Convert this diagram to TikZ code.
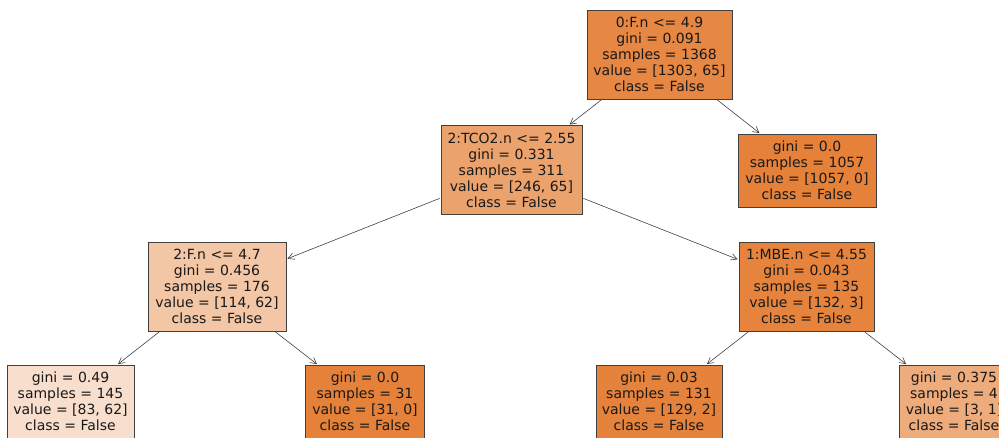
\documentclass[tikz,border=0pt]{standalone}
\usepackage{fontspec}
\setmainfont{DejaVu Sans}
\usetikzlibrary{arrows.meta}

% node fill colours (class False, shaded by purity)
\definecolor{fA}{RGB}{230,135,67}
\definecolor{fB}{RGB}{236,162,109}
\definecolor{fC}{RGB}{229,129,57}
\definecolor{fD}{RGB}{243,198,165}
\definecolor{fE}{RGB}{230,132,62}
\definecolor{fF}{RGB}{248,223,205}
\definecolor{fG}{RGB}{229,131,60}
\definecolor{fH}{RGB}{238,171,123}

\begin{document}
\begin{tikzpicture}[x=1pt,y=-1pt,
  box/.style={draw=black!75, line width=0.8pt, inner sep=0pt, outer sep=0pt,
    align=center, font=\fontsize{14}{16}\selectfont, text=black!90},
  split/.style={box, minimum height=89pt},
  leaf/.style={box, minimum height=73pt},
  edge/.style={draw=black!75, line width=0.6pt,
    -{Straight Barb[length=6pt,width=6.5pt]}, shorten >=1.5pt, shorten <=1.5pt}]
\clip (0,0) rectangle (999,438);

% level 0
\node[split, fill=fA, minimum width=145pt] (n0) at (659.5,54.5)
  {0:F.n <= 4.9\\gini = 0.091\\samples = 1368\\value = [1303, 65]\\class = False};

% level 1
\node[split, fill=fB, minimum width=141pt] (n1) at (511.5,170)
  {2:TCO2.n <= 2.55\\gini = 0.331\\samples = 311\\value = [246, 65]\\class = False};
\node[leaf, fill=fC, minimum width=138pt] (n2) at (807,170.5)
  {gini = 0.0\\samples = 1057\\value = [1057, 0]\\class = False};

% level 2
\node[split, fill=fD, minimum width=138pt] (n3) at (217,286.5)
  {2:F.n <= 4.7\\gini = 0.456\\samples = 176\\value = [114, 62]\\class = False};
\node[split, fill=fE, minimum width=135pt] (n4) at (806.5,286.5)
  {1:MBE.n <= 4.55\\gini = 0.043\\samples = 135\\value = [132, 3]\\class = False};

% level 3
\node[leaf, fill=fF, minimum width=127pt] (n5) at (70.5,401.5)
  {gini = 0.49\\samples = 145\\value = [83, 62]\\class = False};
\node[leaf, fill=fC, minimum width=119pt] (n6) at (365,401.5)
  {gini = 0.0\\samples = 31\\value = [31, 0]\\class = False};
\node[leaf, fill=fG, minimum width=126pt] (n7) at (659,401.5)
  {gini = 0.03\\samples = 131\\value = [129, 2]\\class = False};
\node[leaf, fill=fH, minimum width=110pt] (n8) at (954,401.5)
  {gini = 0.375\\samples = 4\\value = [3, 1]\\class = False};

% connectors
\draw[edge] (n0) -- (n1);
\draw[edge] (n0) -- (n2);
\draw[edge] (n1) -- (n3);
\draw[edge] (n1) -- (n4);
\draw[edge] (n3) -- (n5);
\draw[edge] (n3) -- (n6);
\draw[edge] (n4) -- (n7);
\draw[edge] (n4) -- (n8);
\end{tikzpicture}
\end{document}
